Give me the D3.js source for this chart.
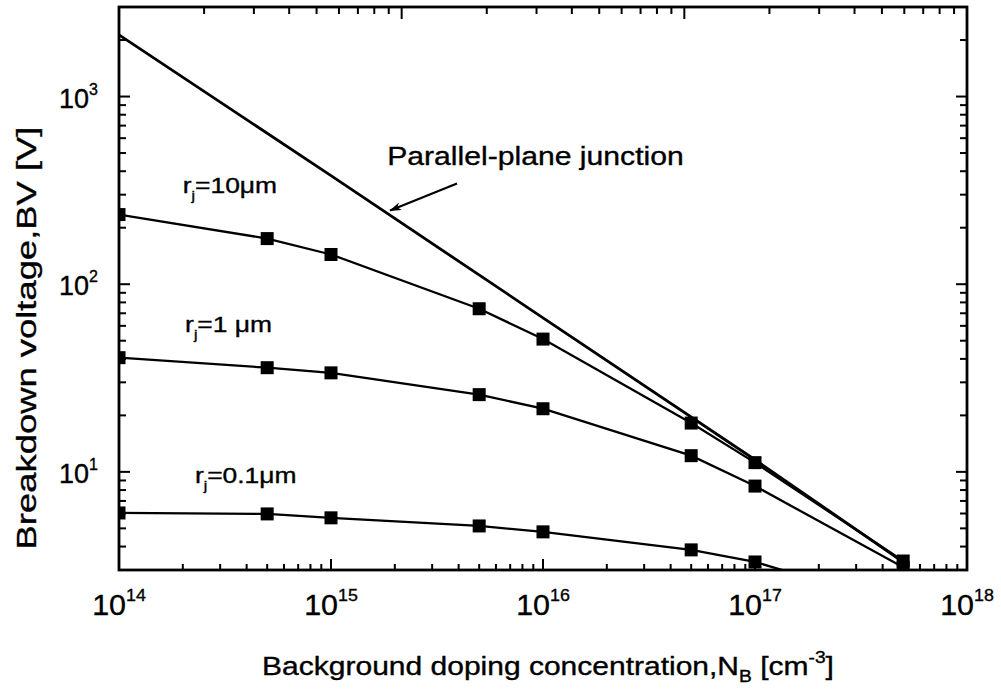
<!DOCTYPE html>
<html>
<head>
<meta charset="utf-8">
<script src="https://cdn.jsdelivr.net/npm/d3@7"></script>
<style>
  html, body { margin: 0; padding: 0; background: #fff; }
  svg { display: block; }
  text { font-family: "Liberation Sans", Arial, Helvetica, sans-serif; fill: #000; stroke: #000; stroke-width: 0.35; }
</style>
</head>
<body>
<svg id="chart" width="1001" height="697"></svg>
<script>
// Background doping concentration N_B [cm^-3]
const doping = [1e14, 5e14, 1e15, 5e15, 1e16, 5e16, 1e17, 5e17];

// Breakdown voltage [V] for cylindrical junctions of radius r_j
const bv_rj10 = [235, 175, 144, 74, 51, 18.2, 11.2, 3.35];
const bv_rj1 = [40.6, 35.9, 33.7, 25.8, 21.7, 12.2, 8.4, 3.1];
const bv_rj01 = [6.04, 5.97, 5.69, 5.15, 4.79, 3.84, 3.31, 1.93];

// Parallel-plane junction breakdown voltage
const planeDoping = [1e14, 1e15, 1e16, 1e17, 5e17];
const bv_plane = [2130, 379, 66.2, 11.6, 3.31];

// Axis ticks
const xMajor = [1e14, 1e15, 1e16, 1e17, 1e18];
const xExponents = ["14", "15", "16", "17", "18"];
const yMajor = [10, 100, 1000];
const yExponents = ["1", "2", "3"];

// Curve labels: [N_B, BV, radius text]
const curveLabels = [
  [2.0e14, 307, "=10\u03bcm"],
  [2.05e14, 55.8, "=1 \u03bcm"],
  [2.28e14, 8.74, "=0.1\u03bcm"]
];

const svg = d3.select("#chart");
const margin = { left: 119, right: 34, top: 7, bottom: 127 };
const W = 1001, H = 697;
const x0 = margin.left, x1 = W - margin.right;
const y0 = margin.top, y1 = H - margin.bottom;

const x = d3.scaleLog().domain([1e14, 1e18]).range([x0, x1]);
const y = d3.scaleLog().domain([3, 3000]).range([y1, y0]);
// the upper frame carries a three-decade log scale
const xTop = d3.scaleLog().domain([1, 1000]).range([x0, x1]);

const defs = svg.append("defs");
defs.append("clipPath").attr("id", "plot")
  .append("rect").attr("x", x0).attr("y", y0).attr("width", x1 - x0).attr("height", y1 - y0);

const minorOf = (lo, hi) => {
  const out = [];
  for (let e = Math.floor(Math.log10(lo)); e <= Math.ceil(Math.log10(hi)); e++) {
    for (let m = 1; m <= 9; m++) {
      const v = m * Math.pow(10, e);
      if (v >= lo * 0.999 && v <= hi * 1.001) out.push({ v, major: m === 1 });
    }
  }
  return out;
};

// text in a horizontally widened face
function wideText(px, py, sx, size, anchor, rotate) {
  const g = svg.append("g")
    .attr("transform", `translate(${px},${py})` + (rotate ? ` rotate(${rotate})` : "") + ` scale(${sx},1)`);
  return g.append("text").attr("font-size", size).attr("text-anchor", anchor || "start");
}

const tickG = svg.append("g").attr("stroke", "#000").attr("stroke-width", 2);

// bottom ticks
minorOf(1e14, 1e18).forEach(t => {
  const px = x(t.v);
  tickG.append("line").attr("x1", px).attr("x2", px)
    .attr("y1", y1).attr("y2", y1 - (t.major ? 11 : 6));
});
// top ticks
minorOf(1, 1000).forEach(t => {
  const px = xTop(t.v);
  tickG.append("line").attr("x1", px).attr("x2", px)
    .attr("y1", y0).attr("y2", y0 + (t.major ? 12 : 7));
});
// left and right ticks
minorOf(3, 3000).forEach(t => {
  const py = y(t.v);
  const len = t.major ? 11 : 7;
  tickG.append("line").attr("x1", x0).attr("x2", x0 + len).attr("y1", py).attr("y2", py);
  tickG.append("line").attr("x1", x1).attr("x2", x1 - len).attr("y1", py).attr("y2", py);
});

// plot frame
svg.append("rect").attr("x", x0).attr("y", y0)
  .attr("width", x1 - x0).attr("height", y1 - y0)
  .attr("fill", "none").attr("stroke", "#000").attr("stroke-width", 2.8);

// x tick labels
xMajor.forEach((v, i) => {
  const t = wideText(x(v), 615, 1.05, 29, "middle");
  t.append("tspan").text("10");
  t.append("tspan").attr("font-size", 17).attr("dy", -14).text(xExponents[i]);
});

// y tick labels
yMajor.forEach((v, i) => {
  const t = wideText(98, y(v) + 11, 1.0, 27, "end");
  t.append("tspan").text("10");
  t.append("tspan").attr("font-size", 16).attr("dy", -13).text(yExponents[i]);
});

// axis titles
const xt = wideText(548, 675, 1.2, 25, "middle");
xt.append("tspan").text("Background doping concentration,N");
xt.append("tspan").attr("font-size", 16).attr("dy", 7).text("B");
xt.append("tspan").attr("dy", -7).text(" [cm");
xt.append("tspan").attr("font-size", 16).attr("dy", -12).text("-3");
xt.append("tspan").attr("dy", 12).text("]");

wideText(36, 338, 1.3, 28, "middle", -90).text("Breakdown voltage,BV [V]");

// curves
const plot = svg.append("g").attr("clip-path", "url(#plot)");
const line = d3.line().x(d => x(d[0])).y(d => y(d[1]));

plot.append("path")
  .datum(d3.zip(planeDoping, bv_plane))
  .attr("d", line).attr("fill", "none").attr("stroke", "#000").attr("stroke-width", 2.8);

[bv_rj10, bv_rj1, bv_rj01].forEach(series => {
  const pts = d3.zip(doping, series);
  plot.append("path").datum(pts).attr("d", line)
    .attr("fill", "none").attr("stroke", "#000").attr("stroke-width", 2.3);
  plot.selectAll(null).data(pts).join("rect")
    .attr("x", d => x(d[0]) - 6.5).attr("y", d => y(d[1]) - 6.5)
    .attr("width", 13).attr("height", 13).attr("fill", "#000");
});

// curve labels
curveLabels.forEach(([n, v, txt]) => {
  const t = wideText(x(n), y(v), 1.2, 22, "start");
  t.append("tspan").text("r");
  t.append("tspan").attr("font-size", 13).attr("dy", 7).text("j");
  t.append("tspan").attr("dy", -7).text(txt);
});

// parallel-plane annotation with arrow
defs.append("marker").attr("id", "head")
  .attr("viewBox", "0 0 12 8").attr("refX", 11).attr("refY", 4)
  .attr("markerWidth", 13).attr("markerHeight", 8).attr("markerUnits", "userSpaceOnUse")
  .attr("orient", "auto")
  .append("path").attr("d", "M0,0 L12,4 L0,8 L3,4 Z").attr("fill", "#000");

svg.append("line")
  .attr("x1", x(3.93e15)).attr("y1", y(344))
  .attr("x2", x(1.9e15)).attr("y2", y(247))
  .attr("stroke", "#000").attr("stroke-width", 2.2).attr("marker-end", "url(#head)");

wideText(x(1.84e15), y(434), 1.16, 26, "start").text("Parallel-plane junction");
</script>
</body>
</html>
